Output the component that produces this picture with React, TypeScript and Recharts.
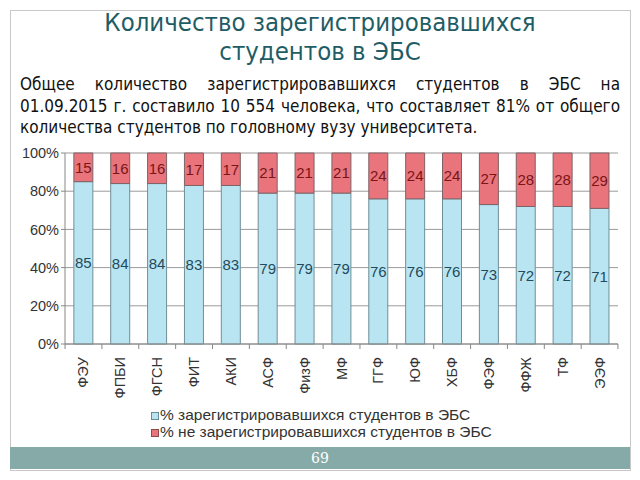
import React from "react"
import {
  Bar,
  BarChart,
  CartesianGrid,
  LabelList,
  Legend,
  XAxis,
  YAxis,
} from "recharts"

const faculties = [
  "ФЭУ", "ФПБИ", "ФГСН", "ФИТ", "АКИ", "АСФ", "ФизФ", "МФ",
  "ГГФ", "ЮФ", "ХБФ", "ФЭФ", "ФФЖ", "ТФ", "ЭЭФ",
]
const registered = [85, 84, 84, 83, 83, 79, 79, 79, 76, 76, 76, 73, 72, 72, 71]
const notRegistered = [15, 16, 16, 17, 17, 21, 21, 21, 24, 24, 24, 27, 28, 28, 29]
const yTicks = [0, 20, 40, 60, 80, 100]

const introLines = [
  "Общее количество зарегистрировавшихся студентов в ЭБС на",
  "01.09.2015 г. составило 10 554 человека, что составляет 81% от общего",
  "количества студентов по головному вузу университета.",
]

const data = faculties.map((name, i) => ({
  name,
  reg: registered[i],
  notReg: notRegistered[i],
}))

const FONT = "Arial, 'Liberation Sans', sans-serif"
const SLIDE_FONT = "'DejaVu Sans Condensed', 'Open Sans', sans-serif"

const FacultyTick = (props: any) => {
  const { x, y, payload } = props
  return (
    <g>
      <line x1={x - 18.4} y1={y - 8} x2={x - 18.4} y2={y - 3} stroke="#888" />
      {payload.index === faculties.length - 1 && (
        <line x1={x + 18.4} y1={y - 8} x2={x + 18.4} y2={y - 3} stroke="#888" />
      )}
      <text
        transform={`translate(${x + 5},${y + 5}) rotate(-90)`}
        textAnchor="end"
        fontSize={14.5}
        fontFamily={FONT}
        fill="#333"
      >
        {payload.value}
      </text>
    </g>
  )
}

const LegendBox = () => (
  <div style={{ fontFamily: FONT, fontSize: 15.5, color: "#333", paddingLeft: 151, lineHeight: "17px" }}>
    <div>
      <span style={{ display: "inline-block", width: 6, height: 6, background: "#b9e5f2", border: "1px solid #6a8c95", marginRight: 1 }} />
      % зарегистрировавшихся студентов в ЭБС
    </div>
    <div>
      <span style={{ display: "inline-block", width: 6, height: 6, background: "#e9747b", border: "1px solid #8a4b50", marginRight: 1 }} />
      % не зарегистрировавшихся студентов в ЭБС
    </div>
  </div>
)

export default function App() {
  return (
    <div style={{ position: "absolute", left: 0, top: 0, width: 640, height: 480, background: "#fff", overflow: "hidden" }}>
      <div style={{ position: "absolute", left: 10, top: 10, width: 619, height: 459, border: "1px solid #c8c8c8" }} />
      <div
        style={{
          position: "absolute", left: 0, top: 8, width: 640, textAlign: "center",
          fontFamily: SLIDE_FONT, fontSize: 25.5, color: "#1f5d66", lineHeight: "29px",
        }}
      >
        Количество зарегистрировавшихся
        <br />
        студентов в ЭБС
      </div>
      <div
        style={{
          position: "absolute", left: 20, top: 74, width: 600,
          fontFamily: SLIDE_FONT, fontSize: 17, color: "#111", lineHeight: "21.5px",
        }}
      >
        {introLines.map((line, i) => (
          <div
            key={i}
            style={{
              textAlign: i < introLines.length - 1 ? "justify" : "left",
              textAlignLast: i < introLines.length - 1 ? "justify" : "left",
            }}
          >
            {line}
          </div>
        ))}
      </div>
      <div style={{ position: "absolute", left: 0, top: 140 }}>
        <BarChart
          width={640}
          height={300}
          data={data}
          margin={{ top: 13, right: 22, bottom: 0, left: 0 }}
          barCategoryGap="24%"
        >
          <CartesianGrid vertical={false} stroke="#9a9a9a" />
          <YAxis
            domain={[0, 100]}
            ticks={yTicks}
            tickFormatter={(v) => `${v}%`}
            width={65}
            stroke="#888"
            tick={{ fontSize: 14.5, fontFamily: FONT, fill: "#333" }}
            tickSize={4}
            interval={0}
          />
          <XAxis
            dataKey="name"
            interval={0}
            height={62}
            stroke="#888"
            tickLine={false}
            tick={<FacultyTick />}
          />
          <Legend verticalAlign="bottom" content={<LegendBox />} />
          <Bar dataKey="reg" stackId="a" fill="#b9e5f2" stroke="#6f8f98" isAnimationActive={false}>
            <LabelList dataKey="reg" position="center" fill="#1f4b5c" fontSize={15} fontFamily={FONT} />
          </Bar>
          <Bar dataKey="notReg" stackId="a" fill="#e9747b" stroke="#7f6266" isAnimationActive={false}>
            <LabelList dataKey="notReg" position="center" fill="#7a1518" fontSize={15} fontFamily={FONT} />
          </Bar>
        </BarChart>
      </div>
      <div
        style={{
          position: "absolute", left: 10, top: 447, width: 620, height: 22,
          background: "#86aaa8", color: "#fff", textAlign: "center",
          fontFamily: "'DejaVu Serif', serif", fontSize: 14, lineHeight: "22px",
        }}
      >
        69
      </div>
    </div>
  )
}
